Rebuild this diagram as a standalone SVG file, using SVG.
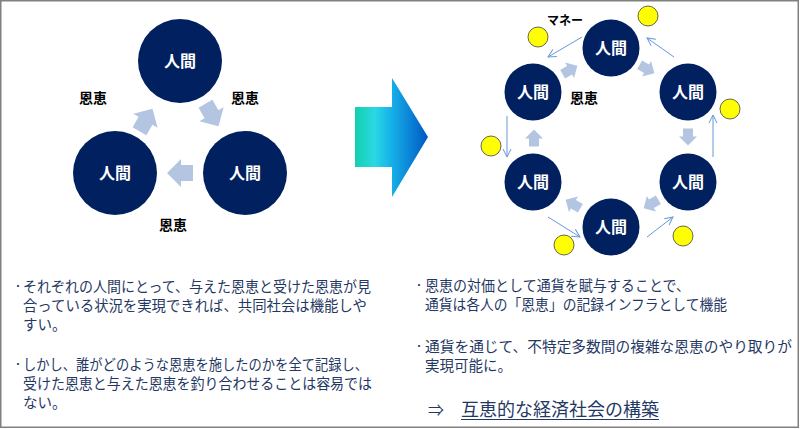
<svg xmlns="http://www.w3.org/2000/svg" width="800" height="429" viewBox="0 0 800 429">
<style>
.person{fill:#002060}
.plabel{fill:#ffffff;font-family:"Noto Sans CJK JP","Noto Sans",sans-serif;font-weight:700;font-size:16px;text-anchor:middle}
.lbl{fill:#000000;font-family:"Noto Sans CJK JP","Noto Sans",sans-serif;font-weight:700;font-size:14px;text-anchor:middle}
.coin{fill:#ffff00;stroke:#404040;stroke-width:0.8}
.favor{fill:#b4c5e2}
.money{stroke:#6699d8;stroke-width:1;fill:none;marker-end:url(#open)}
.body{fill:#1f3864;font-family:"Noto Sans CJK JP","Noto Sans",sans-serif;font-size:14.5px}
.bul{font-size:10px}
</style>
<defs>
<marker id="open" viewBox="0 0 10 10" refX="9" refY="5" markerWidth="10" markerHeight="10" markerUnits="userSpaceOnUse" orient="auto">
<path d="M1,1 L9,5 L1,9" fill="none" stroke="#6699d8" stroke-width="1"/>
</marker>
<linearGradient id="bigArrow" gradientUnits="userSpaceOnUse" x1="355" y1="0" x2="428" y2="0">
<stop offset="0" stop-color="#12d0ac"/>
<stop offset="0.27" stop-color="#2ad8e4"/>
<stop offset="0.5" stop-color="#16b0e8"/>
<stop offset="1" stop-color="#0058c4"/>
</linearGradient>
<path id="blk" d="M-13,-8 L-1,-8 L-1,-14 L13,0 L-1,14 L-1,8 L-13,8 Z"/>
<path id="blks" d="M-8.5,-5 L-0.5,-5 L-0.5,-9 L8.5,0 L-0.5,9 L-0.5,5 L-8.5,5 Z"/>
</defs>
<rect x="0.75" y="0.75" width="797.5" height="426.5" fill="#ffffff" stroke="#808080" stroke-width="1.5"/>

<!-- Left diagram -->
<g id="left-connectors">
<use href="#blk" class="favor" transform="translate(146,120) rotate(-60)"/>
<use href="#blk" class="favor" transform="translate(212,115) rotate(60)"/>
<use href="#blk" class="favor" transform="translate(180,173) rotate(180)"/>
</g>
<g id="left-top"><circle class="person" cx="180" cy="61" r="42"/><text class="plabel" x="180" y="67">人間</text></g>
<g id="left-bl"><circle class="person" cx="115" cy="173" r="42"/><text class="plabel" x="115" y="179">人間</text></g>
<g id="left-br"><circle class="person" cx="245" cy="173" r="42"/><text class="plabel" x="245" y="179">人間</text></g>
<g id="left-labels">
<text class="lbl" x="93" y="103">恩恵</text>
<text class="lbl" x="245" y="103">恩恵</text>
<text class="lbl" x="173" y="230">恩恵</text>
</g>

<!-- Big arrow -->
<g id="big-arrow"><polygon points="355,107 392,107 392,78 428,137 392,197 392,167 355,167" fill="url(#bigArrow)"/></g>

<!-- Right diagram connectors -->
<g id="right-connectors">
<use href="#blks" class="favor" transform="translate(570,70) rotate(-30)"/>
<use href="#blks" class="favor" transform="translate(647,69) rotate(30)"/>
<use href="#blks" class="favor" transform="translate(688,137) rotate(90)"/>
<use href="#blks" class="favor" transform="translate(651,204) rotate(150)"/>
<use href="#blks" class="favor" transform="translate(573,204) rotate(210)"/>
<use href="#blks" class="favor" transform="translate(534,138) rotate(-90)"/>
<line class="money" x1="582" y1="37" x2="548" y2="57"/>
<line class="money" x1="674" y1="57" x2="647" y2="38"/>
<line class="money" x1="713" y1="157" x2="713" y2="115"/>
<line class="money" x1="647" y1="237" x2="673" y2="217"/>
<line class="money" x1="548" y1="217" x2="580" y2="237"/>
<line class="money" x1="507" y1="116" x2="507" y2="157"/>
</g>
<g id="r-top"><circle class="person" cx="611" cy="48" r="28.5"/><text class="plabel" x="611" y="54">人間</text></g>
<g id="r-ur"><circle class="person" cx="688" cy="92" r="28.5"/><text class="plabel" x="688" y="98">人間</text></g>
<g id="r-lr"><circle class="person" cx="688" cy="182" r="28.5"/><text class="plabel" x="688" y="188">人間</text></g>
<g id="r-bot"><circle class="person" cx="611" cy="227" r="28.5"/><text class="plabel" x="611" y="233">人間</text></g>
<g id="r-ll"><circle class="person" cx="533" cy="182" r="28.5"/><text class="plabel" x="533" y="188">人間</text></g>
<g id="r-ul"><circle class="person" cx="533" cy="92" r="28.5"/><text class="plabel" x="533" y="98">人間</text></g>
<g id="coins">
<circle class="coin" cx="648" cy="16" r="10"/>
<circle class="coin" cx="538" cy="37" r="10"/>
<circle class="coin" cx="730" cy="109" r="10"/>
<circle class="coin" cx="491" cy="146" r="10"/>
<circle class="coin" cx="683" cy="236" r="10"/>
<circle class="coin" cx="564" cy="245" r="10"/>
</g>
<g id="right-labels">
<text class="lbl" x="565" y="25" style="font-size:12px">マネー</text>
<text class="lbl" x="584" y="103">恩恵</text>
</g>

<!-- Left text -->
<g id="left-text" class="body">
<text class="bul" x="13" y="290">・</text>
<text x="23" y="292" textLength="348" lengthAdjust="spacingAndGlyphs">それぞれの人間にとって、与えた恩恵と受けた恩恵が見</text>
<text x="23" y="311" textLength="344" lengthAdjust="spacingAndGlyphs">合っている状況を実現できれば、共同社会は機能しや</text>
<text x="23" y="330">すい。</text>
<text class="bul" x="13" y="368">・</text>
<text x="23" y="370" textLength="345" lengthAdjust="spacingAndGlyphs">しかし、誰がどのような恩恵を施したのかを全て記録し、</text>
<text x="23" y="389" textLength="349" lengthAdjust="spacingAndGlyphs">受けた恩恵と与えた恩恵を釣り合わせることは容易では</text>
<text x="23" y="408">ない。</text>
</g>

<!-- Right text -->
<g id="right-text" class="body">
<text class="bul" x="414" y="289">・</text>
<text x="425" y="291" textLength="265" lengthAdjust="spacingAndGlyphs">恩恵の対価として通貨を賦与することで、</text>
<text x="425" y="310" textLength="302" lengthAdjust="spacingAndGlyphs">通貨は各人の「恩恵」の記録インフラとして機能</text>
<text class="bul" x="414" y="350">・</text>
<text x="425" y="352" textLength="367" lengthAdjust="spacingAndGlyphs">通貨を通じて、不特定多数間の複雑な恩恵のやり取りが</text>
<text x="425" y="371">実現可能に。</text>
</g>
<g id="conclusion">
<text x="428" y="416" style="fill:#1f3864;font-family:'Noto Sans CJK JP','DejaVu Sans',sans-serif;font-size:16px">⇒</text>
<text x="461" y="416" textLength="198" lengthAdjust="spacingAndGlyphs" style="fill:#1f3864;font-family:'Noto Sans CJK JP','Noto Sans',sans-serif;font-size:18px">互恵的な経済社会の構築</text>
<line x1="461" y1="419.5" x2="659" y2="419.5" stroke="#1f3864" stroke-width="1"/>
</g>
</svg>
